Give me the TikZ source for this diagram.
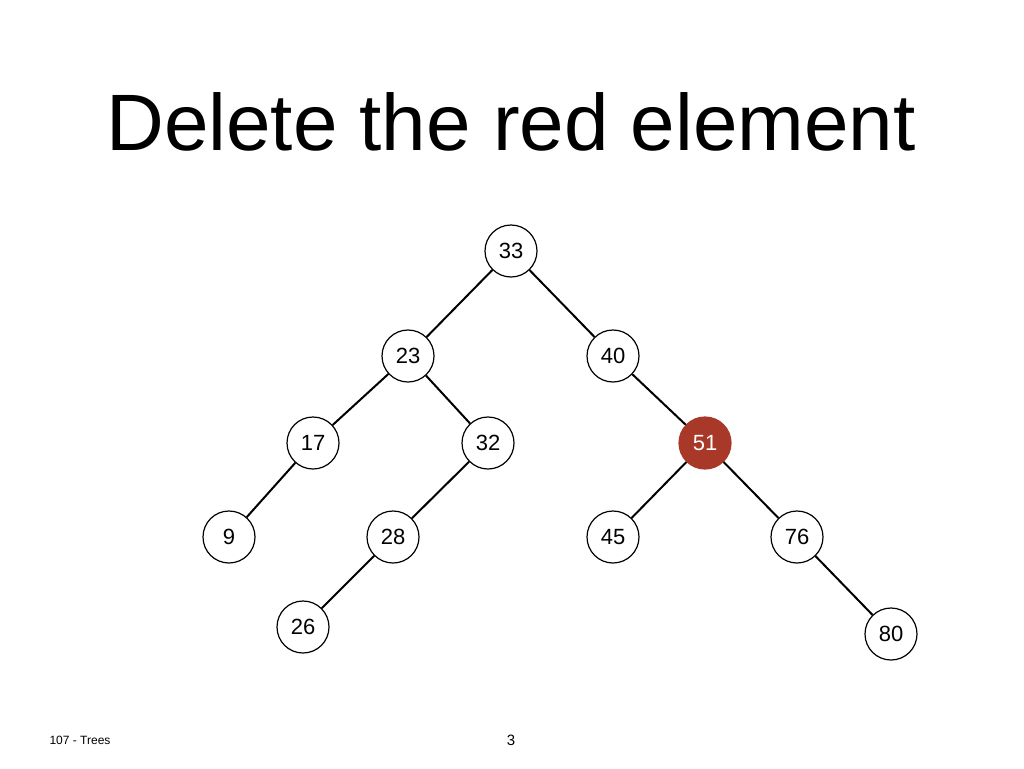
\documentclass[tikz,border=0pt]{standalone}
\usepackage{fontspec}
\setmainfont{Liberation Sans}
\definecolor{delred}{RGB}{168,56,40}
\begin{document}
\begin{tikzpicture}[x=1pt,y=-1pt,
  nd/.style={circle,draw=black,line width=1.2pt,fill=white,minimum size=52pt,inner sep=0pt,font=\fontsize{22}{22}\selectfont},
  red/.style={nd,fill=delred,draw=delred,text=white},
  edge/.style={line width=2pt}]
\useasboundingbox (0,0) rectangle (1024,768);
\node at (511,122) {\fontsize{80}{80}\selectfont Delete the red element};
\node (n33) [nd] at (511,251) {33};
\node (n23) [nd] at (408,356) {23};
\node (n40) [nd] at (613,356) {40};
\node (n17) [nd] at (313,443) {17};
\node (n32) [nd] at (488,443) {32};
\node (n51) [red] at (705,443) {51};
\node (n9) [nd] at (229,537) {9};
\node (n28) [nd] at (393,537) {28};
\node (n45) [nd] at (613,537) {45};
\node (n76) [nd] at (797,537) {76};
\node (n26) [nd] at (303,627) {26};
\node (n80) [nd] at (891,634) {80};
\foreach \a/\b in {n33/n23,n33/n40,n23/n17,n23/n32,n40/n51,n17/n9,n32/n28,n51/n45,n51/n76,n28/n26,n76/n80}
  \draw[edge] (\a) -- (\b);
\node (foot) at (80,740) {\fontsize{12}{12}\selectfont 107 - Trees};
\node (pg) at (511,740) {\fontsize{15}{15}\selectfont 3};
\end{tikzpicture}
\end{document}
